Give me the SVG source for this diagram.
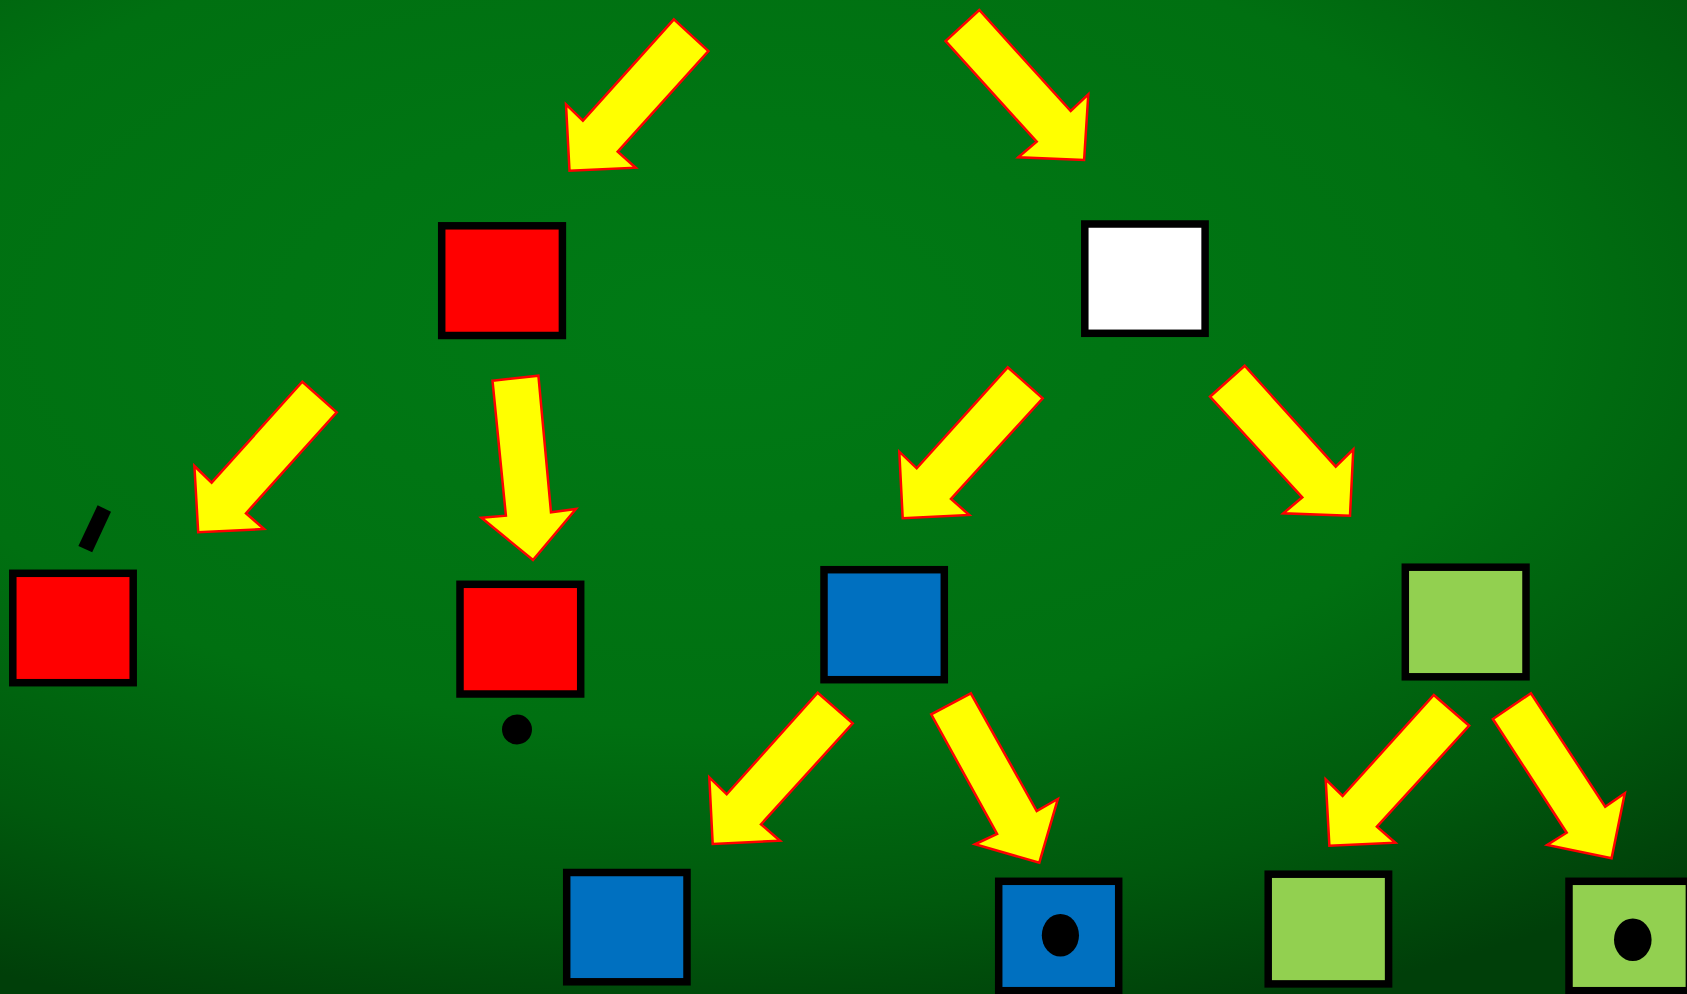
<svg xmlns="http://www.w3.org/2000/svg" width="1687" height="994" viewBox="0 0 1687 994">
<defs>
<radialGradient id="bg" gradientUnits="userSpaceOnUse" cx="700" cy="320" r="1" gradientTransform="translate(700 320) scale(1500 740) translate(-700 -320)">
<stop offset="0" stop-color="#007a15"/>
<stop offset="0.55" stop-color="#007011"/>
<stop offset="0.8" stop-color="#00590d"/>
<stop offset="1" stop-color="#003f09"/>
</radialGradient>
<style>
.box{stroke:#000;stroke-width:7.5}
.red{fill:#ff0000}
.white{fill:#ffffff}
.blue{fill:#0070c0}
.green{fill:#92d050}
.arrow{fill:#ffff00;stroke:#ff0000;stroke-width:2.5;stroke-linejoin:miter}
.dot{fill:#000}
</style>
</defs>
<rect x="0" y="0" width="1687" height="994" fill="url(#bg)"/>
<g id="connectors">
<polygon class="arrow" points="673.9,19.3 708.4,51 617.7,151.7 635.7,167.7 569.5,170.7 566,104.3 582.9,120.7"/>
<polygon class="arrow" points="979.3,10 945.6,41 1036.7,141.7 1018.3,157.3 1084.1,160 1088.3,94.3 1070.7,111"/>
<polygon class="arrow" points="302.3,381.7 336.7,412.3 246,513.3 264,529 198.2,532.3 194.4,466 211.6,482.7"/>
<polygon class="arrow" points="492.5,380.7 538.4,375.7 551,512.3 575.9,509 533,560 481.4,517.7 505.9,515.7"/>
<polygon class="arrow" points="1007.7,367.3 1042.7,398.3 951,499 969.3,515 902.7,518.3 899.3,451.7 916.7,468.3"/>
<polygon class="arrow" points="1244.7,365.7 1210,396.7 1302.3,497.3 1283.3,513.3 1350,515.7 1353.3,449.3 1335.7,466.7"/>
<polygon class="arrow" points="817.7,692.7 852.7,723.3 761,824.3 780,840.7 712.7,844 709.3,777.3 726.7,794.3"/>
<polygon class="arrow" points="970.8,693.3 931.2,714.3 997.1,834 975,844.3 1039.3,862.7 1057.8,799 1036.7,811"/>
<polygon class="arrow" points="1433.8,695 1469.2,725.7 1376.9,826.7 1395.3,842.7 1329.4,845.7 1325.7,779.3 1342.6,796"/>
<polygon class="arrow" points="1530.9,693.3 1492.9,719 1566.7,832.7 1547.2,845 1611.6,858.3 1624.8,793.3 1605.2,806.7"/>
</g>
<g id="node-red-top"><rect class="box red" x="441.7" y="225.8" width="120.7" height="109.7"/></g>
<g id="node-white-top"><rect class="box white" x="1084.8" y="224" width="120.3" height="109.3"/></g>
<g id="node-red-left"><rect class="box red" x="12.8" y="573.3" width="120.4" height="109.4"/></g>
<g id="tick"><polygon class="dot" points="97.6,505.3 111,511.7 92.2,552.3 78.4,546"/></g>
<g id="node-red-mid"><rect class="box red" x="460" y="584.3" width="120.7" height="109.7"/></g>
<g id="dot-red-mid"><circle class="dot" cx="517" cy="729.5" r="15"/></g>
<g id="node-blue-mid"><rect class="box blue" x="824" y="569.7" width="120.3" height="110"/></g>
<g id="node-green-mid"><rect class="box green" x="1405.3" y="567.2" width="120.7" height="109.6"/></g>
<g id="node-blue-bottom"><rect class="box blue" x="566.7" y="872.5" width="120.3" height="109.3"/></g>
<g id="node-blue-dot"><rect class="box blue" x="998.7" y="881.3" width="120" height="109.4"/><ellipse class="dot" cx="1060.4" cy="935.3" rx="18.6" ry="21.3"/></g>
<g id="node-green-bottom"><rect class="box green" x="1268.2" y="874.2" width="120.4" height="109.7"/></g>
<g id="node-green-dot"><rect class="box green" x="1569" y="881.3" width="120.4" height="109.4"/><ellipse class="dot" cx="1632.8" cy="939.7" rx="18.8" ry="21.3"/></g>
</svg>
